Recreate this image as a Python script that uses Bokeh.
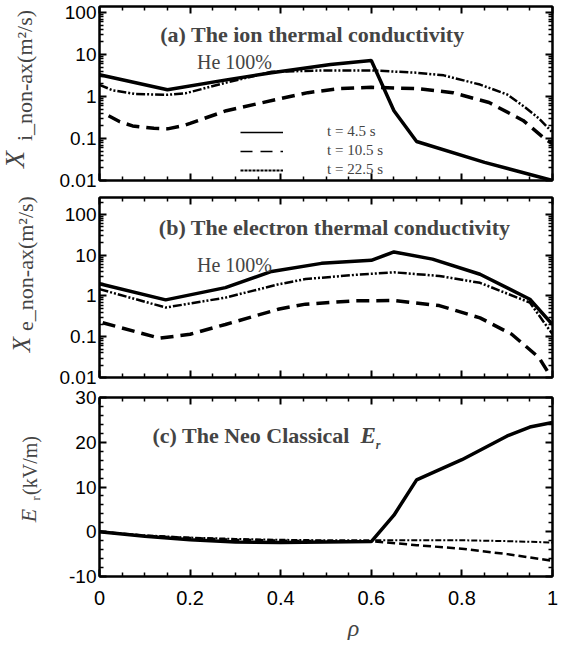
import numpy as np
from bokeh.plotting import figure
from bokeh.models import (FixedTicker, LinearAxis, LogAxis, Label, Legend, LegendItem, Range1d)
from bokeh.layouts import column, row
from bokeh.embed import file_html
from bokeh.resources import INLINE

# ---------------- data ----------------
# (a) ion thermal conductivity chi_i (m^2/s)
rho_a_45 = [0, 0.15, 0.28, 0.38, 0.51, 0.60, 0.65, 0.70, 0.85, 1.0]
chi_i_45 = [3.3, 1.45, 2.5, 3.7, 5.8, 7.2, 0.46, 0.085, 0.027, 0.010]
rho_a_105 = [0.02, 0.045, 0.073, 0.12, 0.15, 0.183, 0.2, 0.28, 0.4, 0.46, 0.53, 0.6, 0.7, 0.78, 0.86, 0.935, 0.985, 1.0]
chi_i_105 = [0.35, 0.25, 0.2, 0.175, 0.17, 0.2, 0.23, 0.46, 0.9, 1.24, 1.55, 1.66, 1.55, 1.24, 0.72, 0.27, 0.095, 0.075]
rho_a_225 = [0, 0.03, 0.08, 0.15, 0.19, 0.28, 0.38, 0.5, 0.6, 0.7, 0.76, 0.84, 0.9, 0.94, 0.97, 1.0]
chi_i_225 = [1.9, 1.4, 1.15, 1.1, 1.2, 2.15, 3.9, 4.2, 4.2, 3.7, 3.2, 1.93, 1.12, 0.55, 0.3, 0.14]

# (b) electron thermal conductivity chi_e (m^2/s)
rho_b_45 = [0, 0.146, 0.278, 0.38, 0.49, 0.6, 0.65, 0.735, 0.84, 0.95, 1.0]
chi_e_45 = [2.0, 0.8, 1.6, 4.0, 6.3, 7.5, 12.0, 8.0, 3.4, 0.83, 0.2]
rho_b_105 = [0.007, 0.133, 0.2, 0.278, 0.397, 0.455, 0.565, 0.65, 0.75, 0.84, 0.91, 0.97, 1.0]
chi_e_105 = [0.22, 0.092, 0.115, 0.2, 0.48, 0.63, 0.76, 0.77, 0.58, 0.29, 0.115, 0.031, 0.009]
rho_b_225 = [0, 0.146, 0.278, 0.397, 0.455, 0.565, 0.65, 0.75, 0.84, 0.95, 1.0]
chi_e_225 = [1.47, 0.52, 0.91, 1.95, 2.6, 3.3, 3.8, 3.1, 2.1, 0.69, 0.115]

# (c) neoclassical radial electric field Er (kV/m)
rho_c_45 = [0, 0.1, 0.2, 0.3, 0.4, 0.5, 0.6, 0.65, 0.7, 0.8, 0.9, 0.95, 1.0]
er_45 = [0, -1.0, -1.8, -2.3, -2.4, -2.3, -2.2, 3.7, 11.6, 16.1, 21.4, 23.4, 24.4]
rho_c_105 = [0, 0.1, 0.2, 0.3, 0.4, 0.5, 0.6, 0.7, 0.8, 0.9, 1.0]
er_105 = [0, -0.9, -1.4, -1.8, -2.0, -2.1, -2.1, -3.0, -3.8, -5.0, -6.5]
rho_c_225 = [0, 0.1, 0.2, 0.3, 0.4, 0.5, 0.6, 0.7, 0.8, 0.9, 1.0]
er_225 = [0, -0.8, -1.3, -1.6, -1.8, -1.9, -1.9, -1.9, -1.9, -2.1, -2.4]

series_labels = ["t = 4.5 s", "t = 10.5 s", "t = 22.5 s"]

x_ticks = [0, 0.2, 0.4, 0.6, 0.8, 1.0]
x_tick_labels = ["0", "0.2", "0.4", "0.6", "0.8", "1"]
x_minor = [0.05, 0.1, 0.15, 0.25, 0.3, 0.35, 0.45, 0.5, 0.55, 0.65, 0.7, 0.75, 0.85, 0.9, 0.95]
log_ticks = [0.01, 0.1, 1, 10, 100]
log_tick_labels = ["0.01", "0.1", "1", "10", "100"]
log_minor = [k * 10.0 ** e for e in (-2, -1, 0, 1, 2) for k in range(2, 10)]
er_ticks = [-10, 0, 10, 20, 30]
er_tick_labels = ["-10", "0", "10", "20", "30"]
er_minor = [-8, -6, -4, -2, 2, 4, 6, 8, 12, 14, 16, 18, 22, 24, 26, 28]

SANS = "Liberation Sans"
SERIF = "Liberation Serif"
GUTTER = 50          # width of the left strip holding the rotated axis titles
FRAME_W = 453

STYLE_45 = dict(line_color="black", line_width=3.5)
STYLE_105 = dict(line_color="black", line_width=3.5, line_dash="13 7")
STYLE_225 = dict(line_color="black", line_width=2.5, line_dash="9 2 2 2 2 2")


def style_axis(ax, ticks, minor, labels, show, size="19px", standoff=3):
    ax.ticker = FixedTicker(ticks=ticks, minor_ticks=minor)
    ax.major_tick_in = 7
    ax.major_tick_out = 0
    ax.minor_tick_in = 4
    ax.minor_tick_out = 0
    ax.axis_line_width = 2
    ax.major_tick_line_width = 2
    ax.minor_tick_line_width = 1.5
    ax.major_label_overrides = {t: l for t, l in zip(ticks, labels)}
    ax.major_label_text_font = SANS
    ax.major_label_text_color = "black"
    if show:
        ax.major_label_text_font_size = size
        ax.major_label_standoff = standoff
    else:
        ax.major_label_text_font_size = "0px"
        ax.major_label_standoff = 0


def make_panel(fh, btop, bbot, yr, log, yt, ym, yl, show_x):
    p = figure(frame_width=FRAME_W, frame_height=fh,
               x_range=Range1d(0, 1), y_range=Range1d(*yr),
               y_axis_type="log" if log else "linear",
               x_axis_location=None, y_axis_location=None,
               output_backend="svg", toolbar_location=None,
               min_border_left=99 - GUTTER, min_border_right=7,
               min_border_top=btop, min_border_bottom=bbot)
    p.grid.visible = False
    p.outline_line_color = "black"
    p.outline_line_width = 2
    AxisY = LogAxis if log else LinearAxis
    for loc, show in (("left", True), ("right", False)):
        ax = AxisY()
        style_axis(ax, yt, ym, yl, show)
        p.add_layout(ax, loc)
    for loc, show in (("below", show_x), ("above", False)):
        ax = LinearAxis()
        style_axis(ax, x_ticks, x_minor, x_tick_labels, show, size="20px", standoff=14)
        p.add_layout(ax, loc)
    return p


def blank(w, h):
    f = figure(frame_width=w, frame_height=h, x_range=Range1d(0, w),
               y_range=Range1d(h, 0),
               x_axis_location=None, y_axis_location=None,
               output_backend="svg", toolbar_location=None,
               min_border=0, min_border_left=0, min_border_right=0,
               min_border_top=0, min_border_bottom=0)
    f.grid.visible = False
    f.outline_line_color = None
    return f


# ---------------- panel (a) ----------------
pa = make_panel(174, 6, 8, (0.01, 140), True, log_ticks, log_minor, log_tick_labels, False)
pa.line(rho_a_45, chi_i_45, **STYLE_45)
pa.line(rho_a_105, chi_i_105, **STYLE_105)
pa.line(rho_a_225, chi_i_225, **STYLE_225)
nan = np.array([np.nan])
d1 = pa.line(nan, nan, line_color="black", line_width=1.5)
d2 = pa.line(nan, nan, line_color="black", line_width=1.5, line_dash="12 8")
d3 = pa.line(nan, nan, line_color="black", line_width=2, line_dash="3 1")
leg = Legend(items=[LegendItem(label=series_labels[0], renderers=[d1]),
                    LegendItem(label=series_labels[1], renderers=[d2]),
                    LegendItem(label=series_labels[2], renderers=[d3])],
             location=(141, 1), glyph_width=43, glyph_height=6, label_height=19,
             spacing=0, padding=0, margin=0, label_standoff=44,
             border_line_alpha=0, background_fill_alpha=0,
             label_text_font=SERIF, label_text_font_size="15px")
pa.add_layout(leg)
pa.add_layout(Label(x=0.47, y=30, text="(a) The ion thermal conductivity", text_align="center",
                    text_baseline="middle", text_font=SERIF, text_font_style="bold", text_font_size="22px"))
pa.add_layout(Label(x=0.298, y=6.8, text="He 100%", text_align="center", text_baseline="middle",
                    text_font=SERIF, text_font_size="20px"))

# ---------------- panel (b) ----------------
pb = make_panel(180, 9, 10, (0.01, 260), True, log_ticks, log_minor, log_tick_labels, False)
pb.line(rho_b_45, chi_e_45, **STYLE_45)
pb.line(rho_b_105, chi_e_105, **STYLE_105)
pb.line(rho_b_225, chi_e_225, **STYLE_225)
pb.add_layout(Label(x=0.519, y=48, text="(b) The electron thermal conductivity", text_align="center",
                    text_baseline="middle", text_font=SERIF, text_font_style="bold", text_font_size="22px"))
pb.add_layout(Label(x=0.298, y=5.6, text="He 100%", text_align="center", text_baseline="middle",
                    text_font=SERIF, text_font_size="20px"))

# ---------------- panel (c) ----------------
pc = make_panel(179, 10, 36, (-10, 30), False, er_ticks, er_minor, er_tick_labels, True)
pc.line(rho_c_45, er_45, **STYLE_45)
pc.line(rho_c_105, er_105, line_color="black", line_width=2.5, line_dash="8 4")
pc.line(rho_c_225, er_225, line_color="black", line_width=2, line_dash="6 2 2 2")
pc.add_layout(Label(x=0.117, y=21.5, text="(c)  The Neo Classical", text_align="left",
                    text_baseline="middle", text_font=SERIF, text_font_style="bold", text_font_size="22px"))
pc.add_layout(Label(x=0.576, y=21.5, text="E", text_align="left", text_baseline="middle",
                    text_font=SERIF, text_font_style="bold italic", text_font_size="23px"))
pc.add_layout(Label(x=0.610, y=19.3, text="r", text_align="left", text_baseline="middle",
                    text_font=SERIF, text_font_style="bold italic", text_font_size="12px"))

# ---------------- left strip: rotated axis titles (page coords - 8) ----------------
g = blank(GUTTER, 612)
rot = dict(angle=np.pi / 2, text_align="center", text_baseline="middle", text_font=SERIF)
g.add_layout(Label(x=14, y=159, text="X", text_font_style="italic", text_font_size="28px", **rot))
g.add_layout(Label(x=24, y=75, text="i_non-ax(m²/s)", text_font_size="22px", **rot))
g.add_layout(Label(x=21, y=344, text="X", text_font_style="italic", text_font_size="25px", **rot))
g.add_layout(Label(x=25, y=263, text="e_non-ax(m²/s)", text_font_size="22px", **rot))
g.add_layout(Label(x=28, y=515, text="E", text_font_style="italic", text_font_size="22px", **rot))
g.add_layout(Label(x=35, y=498, text="r", text_font_size="12px", **rot))
g.add_layout(Label(x=29, y=465, text="(kV/m)", text_font_size="20px", **rot))

# ---------------- bottom strip: x-axis title ----------------
b = blank(99 - GUTTER + FRAME_W + 7, 28)
b.add_layout(Label(x=312 - 8 - GUTTER, y=15, text="ρ", text_align="center", text_baseline="middle",
                   text_font=SERIF, text_font_style="italic", text_font_size="24px"))

g_col = column(g, blank(GUTTER, 28))
layout = row(g_col, column(pa, pb, pc, b, spacing=0), spacing=0)
open("out.html", "w").write(file_html(layout, INLINE))
